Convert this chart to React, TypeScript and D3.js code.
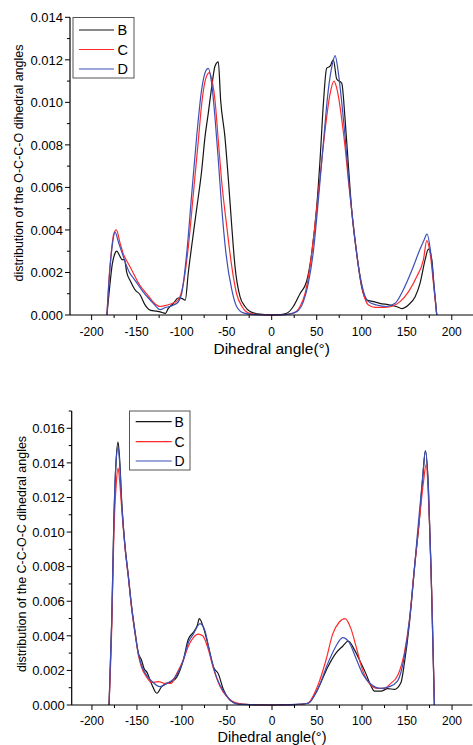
import React from "react";
import * as d3 from "d3";

type Pt = [number, number];

const seriesNames = ["B", "C", "D"];
const seriesColors = ["#151515", "#ff2b2b", "#3c4fb6"];

const xMajorTicks = [-200, -150, -100, -50, 0, 50, 100, 150, 200];
const xMinorTicks = [-175, -125, -75, -25, 25, 75, 125, 175];
const topYTicks = [0, 0.002, 0.004, 0.006, 0.008, 0.01, 0.012, 0.014];
const topYMinor = [0.001, 0.003, 0.005, 0.007, 0.009, 0.011, 0.013];
const botYTicks = [0, 0.002, 0.004, 0.006, 0.008, 0.01, 0.012, 0.014, 0.016];
const botYMinor = [0.001, 0.003, 0.005, 0.007, 0.009, 0.011, 0.013, 0.015, 0.017];

const topTitle = "distribution of the O-C-C-O dihedral angles";
const botTitle = "distribution of the C-C-O-C dihedral angles";
const xTitle = "Dihedral angle(\u00b0)";

// O-C-C-O
const topB: Pt[] = [[-183,0],[-180,0.0013],[-177,0.0024],[-174,0.0029],[-172,0.003],[-169,0.0028],[-166,0.0026],[-163.5,0.0026],[-161,0.002],[-157,0.0016],[-152,0.0012],[-146,0.00094],[-141,0.0005],[-135,0.00023],[-128,0.00018],[-124,0.00015],[-118,0.00008],[-115,0.0003],[-109,0.00055],[-104,0.0008],[-100,0.00078],[-96,0.0007],[-92.6,0.002],[-89,0.0032],[-83,0.0051],[-78,0.0067],[-74,0.0084],[-70.4,0.0095],[-66.7,0.0107],[-63,0.0117],[-59.3,0.0119],[-56.7,0.0101],[-52,0.0084],[-48,0.0063],[-44.4,0.0042],[-40.8,0.0023],[-35.2,0.00086],[-29.7,0.0004],[-24,0.00016],[-16,0.00005],[-8,0.00002],[0,0],[10,0.00002],[16.7,0.00008],[24,0.0004],[31.4,0.001],[38.9,0.0016],[44.4,0.0029],[50,0.0051],[53.7,0.0073],[57.4,0.00995],[61,0.0116],[64.8,0.0117],[68.5,0.012],[72.2,0.0111],[77.8,0.0109],[81.5,0.0092],[85.2,0.007],[88.9,0.0049],[94.4,0.0029],[100,0.0013],[105.6,0.0007],[113,0.00063],[120,0.00055],[131.5,0.00047],[139,0.00039],[144.4,0.0003],[151.8,0.00047],[159.3,0.00086],[164.8,0.0015],[170.4,0.0026],[174,0.0031],[177.8,0.0026],[180.4,0.0013],[183.3,0]];
const topC: Pt[] = [[-183,0],[-181,0.0015],[-178,0.003],[-175.5,0.0038],[-172.5,0.004],[-168.5,0.0034],[-165,0.0029],[-159,0.0024],[-154,0.002],[-148,0.0015],[-143,0.0012],[-137,0.0009],[-131.5,0.0006],[-124,0.0004],[-116,0.00047],[-110,0.00055],[-104,0.0007],[-98,0.0015],[-92.6,0.0032],[-87,0.0057],[-81.5,0.0082],[-77.8,0.0099],[-74,0.011],[-69.3,0.0114],[-66.7,0.0111],[-63,0.0101],[-59.3,0.0082],[-55.6,0.0063],[-50,0.0042],[-44.4,0.0023],[-39,0.001],[-33,0.0004],[-26,0.0001],[-15,0.00002],[0,0],[15,0.00002],[24,0.00008],[31.4,0.0004],[37,0.001],[42.6,0.0023],[48,0.0042],[53.7,0.0065],[59.3,0.0087],[64.8,0.0104],[69.2,0.011],[72,0.0107],[74,0.0103],[77.8,0.0092],[81.5,0.0079],[85.2,0.0063],[90.7,0.0042],[96.3,0.0023],[102,0.001],[107.4,0.00047],[115,0.00036],[124,0.00036],[133,0.0004],[142.6,0.00063],[152,0.0011],[161,0.0018],[168.5,0.0026],[172.2,0.0035],[176,0.0029],[179.6,0.0015],[183.3,0]];
const topD: Pt[] = [[-183,0],[-180,0.002],[-177,0.0033],[-174,0.0039],[-170,0.0034],[-166,0.0029],[-162,0.0024],[-158,0.002],[-153,0.0017],[-148,0.0014],[-143,0.0011],[-137,0.0008],[-131.5,0.00055],[-124,0.00025],[-118,0.00035],[-110,0.00045],[-104,0.0006],[-100,0.001],[-94.4,0.0029],[-89,0.0056],[-83.3,0.0084],[-77.8,0.0106],[-73,0.0115],[-70.4,0.0116],[-66.7,0.0109],[-63,0.0093],[-59.3,0.0073],[-55.6,0.0051],[-50.8,0.0029],[-44.4,0.0012],[-39,0.0004],[-31.5,0.0001],[-20,0.00002],[0,0],[15,0.00002],[27.8,0.00016],[35.2,0.00063],[40.7,0.0015],[46.3,0.003],[51.8,0.0054],[57.4,0.0081],[62.9,0.0106],[67.4,0.0118],[70.4,0.0122],[74,0.0114],[77.8,0.01],[81.5,0.0084],[85.2,0.0065],[90.7,0.0042],[96.3,0.0023],[102,0.0011],[107.4,0.00063],[116.7,0.00047],[127.8,0.0004],[137,0.00055],[146.3,0.0012],[155.6,0.0021],[164.8,0.0031],[169,0.0035],[172.5,0.0038],[176.7,0.0029],[180.4,0.0013],[183.3,0]];

// C-C-O-C
const botB: Pt[] = [[-181,0],[-178,0.0049],[-175.6,0.0107],[-173.3,0.014],[-171,0.0152],[-169,0.014],[-167,0.0118],[-163.3,0.0092],[-159.6,0.0075],[-156,0.0057],[-152,0.0042],[-148.5,0.003],[-145,0.0026],[-142,0.0021],[-139,0.0019],[-134,0.00125],[-128,0.00068],[-122.6,0.00106],[-117,0.00125],[-111.5,0.00135],[-106,0.0016],[-98.5,0.0026],[-93,0.0038],[-87.4,0.0042],[-83,0.0046],[-80.7,0.005],[-76.3,0.0045],[-70.7,0.0034],[-65,0.0022],[-59.6,0.0018],[-54,0.0009],[-48.5,0.0004],[-40,0.0001],[-25,0.00002],[0,0],[25,0.00002],[40,0.0001],[50.7,0.0009],[62,0.0022],[71,0.003],[78.5,0.0034],[84.8,0.0037],[91.5,0.0032],[99,0.0024],[104.4,0.0018],[110,0.0011],[113.7,0.0008],[121,0.0008],[128.5,0.00095],[136,0.0009],[143.3,0.0013],[147,0.0024],[152.6,0.0047],[158,0.0078],[163.7,0.0107],[167.5,0.0132],[170.4,0.0147],[173.7,0.0126],[176.7,0.0078],[180.4,0]];
const botC: Pt[] = [[-181,0],[-178,0.0045],[-175.6,0.01],[-173,0.0128],[-171,0.0137],[-169,0.0128],[-167,0.0114],[-163.3,0.0091],[-159.6,0.0074],[-156,0.0056],[-152,0.0041],[-148.5,0.0029],[-145,0.0022],[-139,0.0016],[-134,0.0013],[-126,0.00135],[-119,0.00125],[-112,0.00125],[-106,0.0018],[-98.5,0.0026],[-93,0.0034],[-87.4,0.0039],[-82,0.0041],[-77,0.004],[-70.7,0.0032],[-65,0.0021],[-58,0.0011],[-50.4,0.0005],[-40,0.00013],[-25,0.00002],[0,0],[25,0.00002],[39.6,0.0001],[50.7,0.0011],[60,0.0026],[67.4,0.0041],[74.8,0.0048],[81.1,0.005],[87.8,0.0044],[93.3,0.0034],[100.7,0.002],[108,0.00125],[117.4,0.00096],[124.8,0.00096],[132,0.00125],[139.6,0.0017],[147,0.003],[152.6,0.0049],[158,0.0078],[163.7,0.0107],[168.5,0.013],[171.1,0.0139],[174.8,0.0107],[177.8,0.0059],[180.4,0]];
const botD: Pt[] = [[-181,0],[-178,0.005],[-175.6,0.0108],[-173.3,0.014],[-171,0.0149],[-169,0.0138],[-167,0.0117],[-163.3,0.0092],[-159.6,0.0074],[-156,0.0057],[-152,0.0041],[-148.5,0.003],[-145,0.0023],[-139,0.0017],[-134,0.0014],[-124.4,0.00106],[-117,0.00125],[-109.6,0.0015],[-104,0.0019],[-98.5,0.0026],[-93,0.0036],[-87.4,0.0041],[-80,0.0047],[-74.5,0.0043],[-69,0.003],[-61.5,0.0016],[-54,0.0008],[-46.7,0.0003],[-38,0.00005],[-20,0.00002],[0,0],[20,0.00002],[40,0.0001],[50.7,0.0009],[62,0.0024],[71,0.0034],[78.5,0.0039],[85.9,0.0036],[93.3,0.0027],[100.7,0.0018],[110,0.0012],[121,0.00096],[130.4,0.00106],[139.6,0.0014],[147,0.0028],[154.4,0.0057],[161.9,0.0101],[167.4,0.0132],[170.4,0.0147],[173.7,0.0126],[176.7,0.0078],[180.4,0]];

const FONT = "'Liberation Sans', Arial, Helvetica, sans-serif";

interface PanelProps {
  series: Pt[][];
  yDomain: [number, number];
  yTicks: number[];
  yMinor: number[];
  yTitle: string;
  xDomain: [number, number];
  xRange: [number, number];
  yRange: [number, number];
  yTitleX: number;
  yTitleY: number;
  xTickDy: number;
  xTitleDy: number;
  xTitleFs: number;
  legend: { x: number; y: number; w: number; h: number; lx0: number; lx1: number; tx: number; rows: number[]; fs: number };
}

function Panel(p: PanelProps) {
  const x = d3.scaleLinear().domain(p.xDomain).range(p.xRange);
  const y = d3.scaleLinear().domain(p.yDomain).range(p.yRange);
  const axisY = p.yRange[0];
  const axisX = p.xRange[0];
  const line = d3
    .line<Pt>()
    .x((d) => x(d[0]))
    .y((d) => y(d[1]))
    .curve(d3.curveMonotoneX);
  const L = p.legend;
  return (
    <g>
      {p.series.map((s, i) => (
        <path key={i} d={line(s) || ""} fill="none" stroke={seriesColors[i]} strokeWidth={1.2} strokeLinejoin="round" />
      ))}
      {/* x axis */}
      <line x1={axisX} x2={p.xRange[1]} y1={axisY} y2={axisY} stroke="#000" strokeWidth={1.2} />
      {xMajorTicks.map((t) => (
        <g key={"xm" + t}>
          <line x1={x(t)} x2={x(t)} y1={axisY} y2={axisY + 5} stroke="#000" strokeWidth={1} />
          <text x={x(t)} y={axisY + p.xTickDy} textAnchor="middle" fontSize={12} fontFamily={FONT}>
            {t}
          </text>
        </g>
      ))}
      {xMinorTicks.map((t) => (
        <line key={"xn" + t} x1={x(t)} x2={x(t)} y1={axisY} y2={axisY + 3} stroke="#000" strokeWidth={1} />
      ))}
      <text x={x(0)} y={axisY + p.xTitleDy} textAnchor="middle" fontSize={p.xTitleFs} fontFamily={FONT}>
        {xTitle}
      </text>
      {/* y axis */}
      <line x1={axisX} x2={axisX} y1={axisY} y2={p.yRange[1]} stroke="#000" strokeWidth={1.2} />
      {p.yTicks.map((t) => (
        <g key={"ym" + t}>
          <line x1={axisX - 5} x2={axisX} y1={y(t)} y2={y(t)} stroke="#000" strokeWidth={1} />
          <text x={axisX - 7} y={y(t)} dy="0.36em" textAnchor="end" fontSize={13} fontFamily={FONT}>
            {t.toFixed(3)}
          </text>
        </g>
      ))}
      {p.yMinor.map((t) => (
        <line key={"yn" + t} x1={axisX - 3} x2={axisX} y1={y(t)} y2={y(t)} stroke="#000" strokeWidth={1} />
      ))}
      <text
        transform={`translate(${p.yTitleX},${p.yTitleY}) rotate(-90)`}
        textAnchor="middle"
        fontSize={12.5}
        fontFamily={FONT}
      >
        {p.yTitle}
      </text>
      {/* legend */}
      <rect x={L.x} y={L.y} width={L.w} height={L.h} fill="#fff" stroke="#555" strokeWidth={1} />
      {seriesNames.map((n, i) => (
        <g key={n}>
          <line x1={L.lx0} x2={L.lx1} y1={L.rows[i]} y2={L.rows[i]} stroke={seriesColors[i]} strokeWidth={1.2} />
          <text x={L.tx} y={L.rows[i]} dy="0.36em" fontSize={L.fs} fontFamily={FONT}>
            {n}
          </text>
        </g>
      ))}
    </g>
  );
}

export default function App() {
  return (
    <svg
      width={473}
      height={745}
      style={{ position: "absolute", left: 0, top: 0, background: "#fff" }}
    >
      <rect x={0} y={0} width={473} height={745} fill="#fff" />
      <Panel
        series={[topB, topC, topD]}
        yDomain={[0, 0.014]}
        yTicks={topYTicks}
        yMinor={topYMinor}
        yTitle={topTitle}
        xDomain={[-224, 224]}
        xRange={[70, 473.4]}
        yRange={[315, 17.3]}
        yTitleX={22.5}
        yTitleY={163}
        xTickDy={21}
        xTitleDy={39}
        xTitleFs={15.5}
        legend={{ x: 73, y: 17.5, w: 61, h: 60.5, lx0: 79, lx1: 114, tx: 117.5, rows: [30, 49.5, 69], fs: 14.5 }}
      />
      <Panel
        series={[botB, botC, botD]}
        yDomain={[0, 0.017]}
        yTicks={botYTicks}
        yMinor={botYMinor}
        yTitle={botTitle}
        xDomain={[-222.5, 222.5]}
        xRange={[71.7, 472.3]}
        yRange={[705, 411]}
        yTitleX={26}
        yTitleY={554}
        xTickDy={20}
        xTitleDy={36.5}
        xTitleFs={14.5}
        legend={{ x: 129.5, y: 411, w: 60.5, h: 59, lx0: 135.7, lx1: 171.7, tx: 174.5, rows: [421.7, 441.7, 461], fs: 14 }}
      />
    </svg>
  );
}
